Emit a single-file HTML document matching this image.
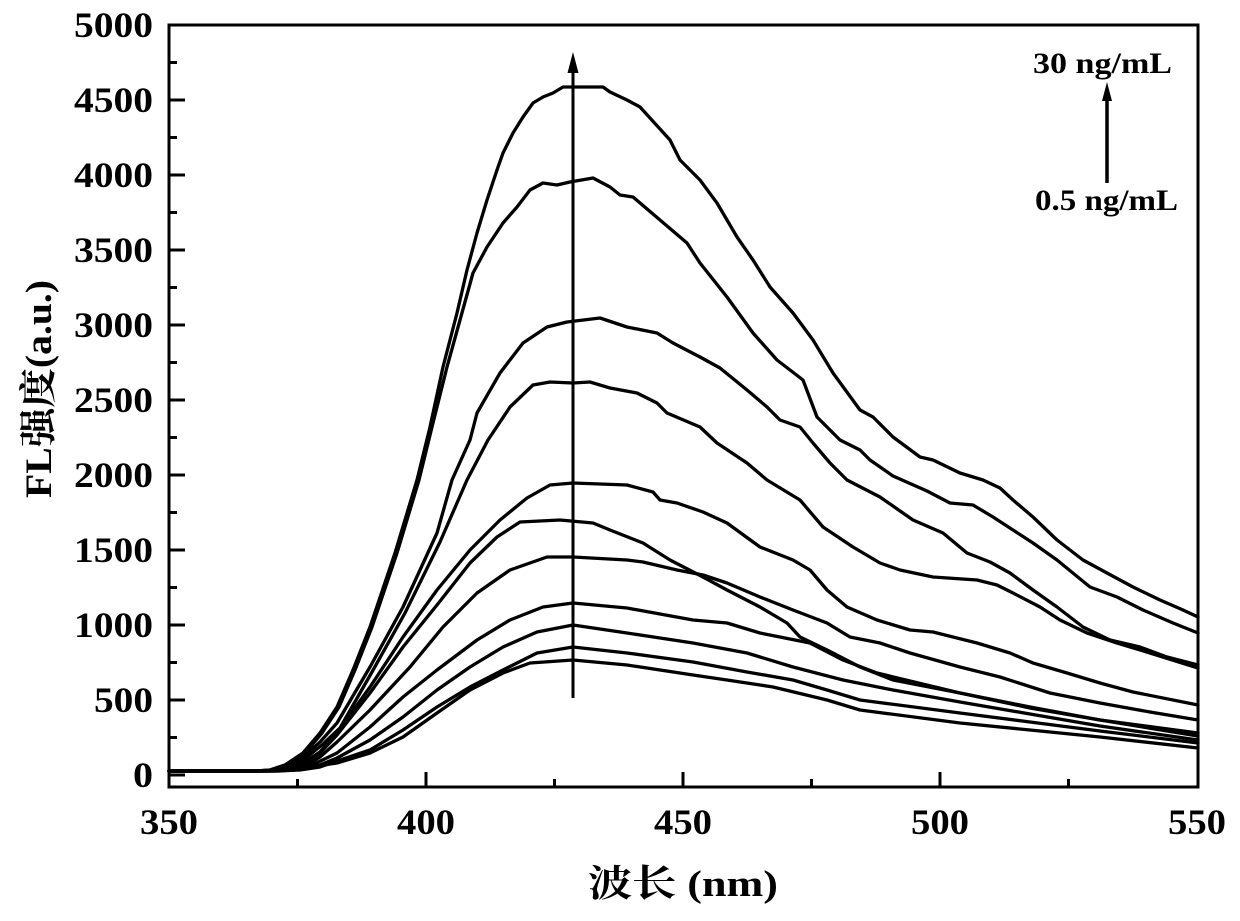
<!DOCTYPE html>
<html>
<head>
<meta charset="utf-8">
<style>
html,body{margin:0;padding:0;background:#fff;}
svg{display:block;}
.t{font-family:"Liberation Serif","Noto Serif CJK SC",serif;font-weight:bold;fill:#000;}
.c{fill:none;stroke:#000;stroke-width:3.3;stroke-linejoin:round;stroke-linecap:round;}
</style>
</head>
<body>
<svg width="1240" height="921" viewBox="0 0 1240 921" xmlns="http://www.w3.org/2000/svg">
<rect x="0" y="0" width="1240" height="921" fill="#fff"/>

<!-- curves -->
<g class="c">
<polyline points="169,771 255,771 270,770 285,765 303,753 320,733 337,707 353,670 370,627 395,553 417,480 430,427 443,367 457,313 467,270 477,233 487,200 497,170 503,153 513,133 523,117 533,103 543,97 553,93 563,87 580,87 603,87 610,92 627,100 640,107 650,118 670,140 680,160 700,180 717,203 737,237 753,260 770,287 793,313 813,340 833,373 860,410 873,417 893,437 920,457 933,460 960,473 983,480 1000,488 1013,500 1033,517 1057,540 1083,560 1107,573 1133,587 1160,600 1183,610 1198,617"/>
<polyline points="169,771 255,771 272,770 287,765 305,753 322,733 339,707 355,670 372,627 397,553 419,480 432,427 447,367 460,320 473,273 487,247 503,223 517,207 530,190 543,183 557,185 570,182 593,178 610,187 620,195 633,197 660,220 687,243 700,263 727,297 753,333 777,360 803,380 817,417 840,440 860,450 870,460 893,476 927,491 950,503 973,505 993,517 1013,530 1033,543 1057,560 1090,587 1117,597 1143,610 1173,623 1198,633"/>
<polyline points="169,771 260,771 280,769 300,760 320,742 337,723 370,667 403,607 437,533 452,480 470,440 477,413 500,373 523,343 547,327 567,322 600,318 627,327 657,333 673,343 700,357 720,368 747,390 767,407 780,420 800,427 813,443 830,463 847,480 880,497 913,520 943,533 967,553 990,562 1010,573 1033,590 1057,607 1083,627 1110,640 1140,647 1167,657 1198,665"/>
<polyline points="169,771 262,771 282,769 302,761 322,745 340,728 372,672 405,613 440,542 467,480 488,440 510,407 533,385 550,382 573,383 590,382 610,388 637,393 657,403 667,413 700,427 717,443 747,463 767,480 800,500 823,527 853,547 880,563 900,570 933,577 977,580 997,585 1013,593 1040,607 1060,620 1087,633 1117,643 1150,653 1198,668"/>
<polyline points="169,771 265,771 285,769 300,765 320,752 337,733 370,687 403,637 437,590 470,550 500,520 527,498 550,485 573,483 600,484 627,485 653,492 660,500 677,503 703,512 727,523 760,547 793,560 810,570 827,590 847,607 877,620 910,630 933,632 977,643 1010,653 1033,663 1067,673 1100,683 1133,692 1198,705"/>
<polyline points="169,771 267,771 287,769 302,766 320,753 337,735 370,693 403,647 437,605 470,563 497,537 520,522 560,520 593,523 610,530 643,543 670,560 703,577 727,590 760,607 787,623 800,637 827,650 860,667 893,680 960,693 1030,707 1100,720 1198,733"/>
<polyline points="169,771 270,771 290,769 305,766 320,757 337,742 370,710 410,667 443,627 477,593 510,570 547,557 573,557 627,560 643,562 677,570 703,575 727,583 760,597 793,610 827,623 850,637 880,643 910,653 960,667 1000,677 1050,693 1100,703 1150,712 1198,720"/>
<polyline points="169,771 272,771 292,770 310,766 337,753 370,727 403,697 437,670 477,640 510,620 543,607 573,603 627,608 693,620 727,623 760,633 810,643 843,660 877,673 960,693 1030,708 1100,720 1198,736"/>
<polyline points="169,771 275,771 295,770 315,767 337,758 370,740 403,717 437,690 470,667 503,647 537,632 573,625 627,633 693,643 747,653 793,667 843,680 893,690 960,702 1030,714 1100,726 1198,740"/>
<polyline points="169,771 278,771 300,770 320,767 340,760 370,750 403,730 437,707 470,687 503,670 537,653 573,647 627,653 693,662 747,672 793,680 827,690 860,700 960,713 1030,722 1100,731 1198,743"/>
<polyline points="169,771 280,771 303,768 337,763 370,753 403,737 437,713 470,690 503,673 530,663 573,660 627,665 693,675 727,680 773,687 827,700 860,710 960,723 1030,730 1100,737 1198,748"/>
</g>

<!-- frame -->
<rect x="169" y="25" width="1029" height="762" fill="none" stroke="#000" stroke-width="3"/>

<!-- y ticks -->
<g stroke="#000" stroke-width="3">
<line x1="169" y1="775" x2="185" y2="775"/>
<line x1="169" y1="700" x2="185" y2="700"/>
<line x1="169" y1="625" x2="185" y2="625"/>
<line x1="169" y1="550" x2="185" y2="550"/>
<line x1="169" y1="475" x2="185" y2="475"/>
<line x1="169" y1="400" x2="185" y2="400"/>
<line x1="169" y1="325" x2="185" y2="325"/>
<line x1="169" y1="250" x2="185" y2="250"/>
<line x1="169" y1="175" x2="185" y2="175"/>
<line x1="169" y1="100" x2="185" y2="100"/>
<line x1="169" y1="737.5" x2="177" y2="737.5"/>
<line x1="169" y1="662.5" x2="177" y2="662.5"/>
<line x1="169" y1="587.5" x2="177" y2="587.5"/>
<line x1="169" y1="512.5" x2="177" y2="512.5"/>
<line x1="169" y1="437.5" x2="177" y2="437.5"/>
<line x1="169" y1="362.5" x2="177" y2="362.5"/>
<line x1="169" y1="287.5" x2="177" y2="287.5"/>
<line x1="169" y1="212.5" x2="177" y2="212.5"/>
<line x1="169" y1="137.5" x2="177" y2="137.5"/>
<line x1="169" y1="62.5" x2="177" y2="62.5"/>
<!-- x ticks -->
<line x1="426" y1="787" x2="426" y2="772"/>
<line x1="683" y1="787" x2="683" y2="772"/>
<line x1="940" y1="787" x2="940" y2="772"/>
<line x1="297.5" y1="787" x2="297.5" y2="779"/>
<line x1="554.5" y1="787" x2="554.5" y2="779"/>
<line x1="811.5" y1="787" x2="811.5" y2="779"/>
<line x1="1068.5" y1="787" x2="1068.5" y2="779"/>
</g>

<!-- y labels -->
<g class="t" font-size="36" text-anchor="end">
<text x="153" y="787" textLength="20" lengthAdjust="spacingAndGlyphs">0</text>
<text x="153" y="712" textLength="59" lengthAdjust="spacingAndGlyphs">500</text>
<text x="153" y="637" textLength="79" lengthAdjust="spacingAndGlyphs">1000</text>
<text x="153" y="562" textLength="79" lengthAdjust="spacingAndGlyphs">1500</text>
<text x="153" y="487" textLength="79" lengthAdjust="spacingAndGlyphs">2000</text>
<text x="153" y="412" textLength="79" lengthAdjust="spacingAndGlyphs">2500</text>
<text x="153" y="337" textLength="79" lengthAdjust="spacingAndGlyphs">3000</text>
<text x="153" y="262" textLength="79" lengthAdjust="spacingAndGlyphs">3500</text>
<text x="153" y="187" textLength="79" lengthAdjust="spacingAndGlyphs">4000</text>
<text x="153" y="112" textLength="79" lengthAdjust="spacingAndGlyphs">4500</text>
<text x="153" y="37" textLength="79" lengthAdjust="spacingAndGlyphs">5000</text>
</g>

<!-- x labels -->
<g class="t" font-size="36" text-anchor="middle">
<text x="169" y="834" textLength="58" lengthAdjust="spacingAndGlyphs">350</text>
<text x="426" y="834" textLength="58" lengthAdjust="spacingAndGlyphs">400</text>
<text x="683" y="834" textLength="58" lengthAdjust="spacingAndGlyphs">450</text>
<text x="940" y="834" textLength="58" lengthAdjust="spacingAndGlyphs">500</text>
<text x="1197" y="834" textLength="58" lengthAdjust="spacingAndGlyphs">550</text>
</g>

<!-- axis titles -->
<text class="t" x="683" y="896" font-size="37" text-anchor="middle" textLength="190" lengthAdjust="spacingAndGlyphs">波长 (nm)</text>
<text class="t" transform="translate(51,389) rotate(-90)" font-size="37" text-anchor="middle" textLength="218" lengthAdjust="spacingAndGlyphs">FL强度(a.u.)</text>

<!-- main arrow -->
<line x1="573" y1="698" x2="573" y2="70" stroke="#000" stroke-width="3"/>
<polygon points="573,52 567.5,73 578.5,73" fill="#000"/>

<!-- legend -->
<text class="t" x="1033" y="73" font-size="30" textLength="139" lengthAdjust="spacingAndGlyphs">30 ng/mL</text>
<text class="t" x="1035" y="210" font-size="30" textLength="143" lengthAdjust="spacingAndGlyphs">0.5 ng/mL</text>
<line x1="1107" y1="183" x2="1107" y2="98" stroke="#000" stroke-width="3.5"/>
<polygon points="1107,82 1102,101 1112,101" fill="#000"/>
</svg>
</body>
</html>
